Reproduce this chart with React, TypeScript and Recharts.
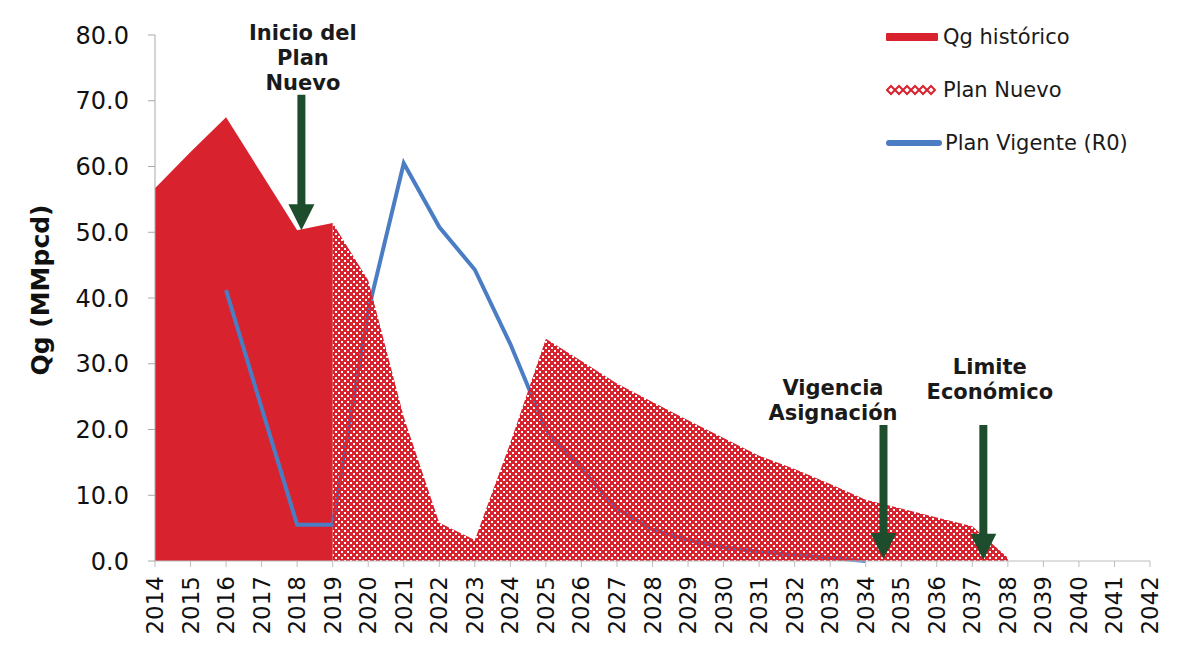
import React from 'react';
import { ComposedChart, Area, XAxis, YAxis, ReferenceLine, Legend } from 'recharts';

const years = [2014, 2015, 2016, 2017, 2018, 2019, 2020, 2021, 2022, 2023, 2024, 2025, 2026, 2027, 2028, 2029, 2030, 2031, 2032, 2033, 2034, 2035, 2036, 2037, 2038, 2039, 2040, 2041, 2042];
const qgHistorico = [56.7, 62.2, 67.5, 58.9, 50.3, 51.4, null, null, null, null, null, null, null, null, null, null, null, null, null, null, null, null, null, null, null, null, null, null, null];
const planNuevo = [null, null, null, null, null, 51.4, 42.7, 21.9, 5.8, 3.2, 18.0, 33.8, 30.4, 27.0, 24.2, 21.4, 18.7, 16.0, 14.0, 11.7, 9.3, 8.0, 6.6, 5.3, 0.5, null, null, null, null];
const planVigente = [null, null, 41.2, 23.3, 5.5, 5.5, 38.0, 60.5, 50.8, 44.3, 33.0, 20.0, 14.0, 8.0, 4.8, 3.2, 2.1, 1.4, 0.9, 0.5, 0.0, null, null, null, null, null, null, null, null];
const yTicks = [0, 10, 20, 30, 40, 50, 60, 70, 80];
const seriesNames = ['Qg histórico', 'Plan Nuevo', 'Plan Vigente (R0)'];
const yAxisTitle = 'Qg (MMpcd)';
const annotations = [
  { x: 2018.12, top: 70.9, tip: 50.3, lines: ['Inicio del', 'Plan', 'Nuevo'], dx: 1.5, gap: 12 },
  { x: 2034.5, top: 20.7, tip: 0.3, lines: ['Vigencia', 'Asignación'], dx: -50.5, gap: 12 },
  { x: 2037.31, top: 20.7, tip: 0.2, lines: ['Limite', 'Económico'], dx: 6.5, gap: 33 },
];

const RED = '#d8232f';
const BLUE = '#4a7dc4';
const GREEN = '#1e4d2d';
const FONT = '"DejaVu Sans", sans-serif';

const data = years.map((year, i) => ({
  year,
  hist: qgHistorico[i],
  nuevo: planNuevo[i],
  vigente: planVigente[i],
}));

const XTick = (props: any) => {
  const { x, y, payload } = props;
  return (
    <text
      x={x}
      y={y}
      transform={`rotate(-90 ${x} ${y})`}
      textAnchor="end"
      dominantBaseline="central"
      fontSize={23}
      fill="#111"
      fontFamily={FONT}
    >
      {payload.value}
    </text>
  );
};

const YTitle = (props: any) => {
  const vb = props.viewBox || { x: 0, y: 0, width: 0, height: 0 };
  const cx = vb.x + 32;
  const cy = vb.y + vb.height / 2 - 8;
  return (
    <text
      x={cx}
      y={cy}
      transform={`rotate(-90 ${cx} ${cy})`}
      textAnchor="middle"
      dominantBaseline="central"
      fontSize={25}
      fontWeight="bold"
      fill="#111"
      fontFamily={FONT}
    >
      {yAxisTitle}
    </text>
  );
};

const makeArrow = (ann: any) => (p: any) => {
  const { x1, y1, y2 } = p;
  const x = x1;
  const top = Math.min(y1, y2);
  const tip = Math.max(y1, y2);
  const headH = 26;
  const headW = 13;
  const n = ann.lines.length;
  return (
    <g>
      <line x1={x} y1={top} x2={x} y2={tip - headH + 2} stroke={GREEN} strokeWidth={8} />
      <polygon points={`${x - headW},${tip - headH} ${x + headW},${tip - headH} ${x},${tip}`} fill={GREEN} />
      {ann.lines.map((t: string, i: number) => (
        <text
          key={t}
          x={x + ann.dx}
          y={top - ann.gap - (n - 1 - i) * 25}
          textAnchor="middle"
          dominantBaseline="central"
          fontSize={21}
          fontWeight="bold"
          fill="#1a1a1a"
          fontFamily={FONT}
        >
          {t}
        </text>
      ))}
    </g>
  );
};

const LegendContent = () => {
  const icons = [
    <svg width={57} height={14} key="a"><rect x={0} y={3} width={52} height={8} rx={1} fill={RED} /></svg>,
    <svg width={57} height={14} key="b">
      {[0, 1, 2, 3, 4, 5].map((k) => (
        <polygon key={k} points={`${k * 8 + 1},7 ${k * 8 + 5},3 ${k * 8 + 9},7 ${k * 8 + 5},11`} fill="#fff" stroke={RED} strokeWidth={2} />
      ))}
    </svg>,
    <svg width={59} height={14} key="c"><line x1={3} y1={7} x2={53} y2={7} stroke={BLUE} strokeWidth={6} strokeLinecap="round" /></svg>,
  ];
  return (
    <div style={{ fontFamily: FONT, fontSize: 21, color: '#1a1a1a' }}>
      {seriesNames.map((name, i) => (
        <div key={name} style={{ height: 53, display: 'flex', alignItems: 'center', whiteSpace: 'nowrap' }}>
          {icons[i]}
          <span>{name}</span>
        </div>
      ))}
    </div>
  );
};

export default function App() {
  return (
    <div style={{ width: 1164, height: 636, outline: '1px solid #e2e2e2', fontFamily: FONT, position: 'relative' }}>
      <ComposedChart width={1164} height={631} data={data} margin={{ top: 27, right: 22, bottom: 8, left: 0 }}>
        <defs>
          <pattern id="pnPattern" patternUnits="userSpaceOnUse" width={6} height={6}>
            <path d="M0 0h6v6h-6z M0 0h2v2h-2z M3 3h2v2h-2z" fill={RED} fillRule="evenodd" />
          </pattern>
        </defs>
        <XAxis
          dataKey="year"
          type="number"
          domain={[2014, 2042]}
          ticks={years}
          interval={0}
          height={70}
          tick={<XTick />}
          tickSize={6}
          tickMargin={9}
          stroke="#bdbdbd"
          allowDataOverflow
        />
        <YAxis
          type="number"
          domain={[0, 80]}
          ticks={yTicks}
          width={147}
          tickFormatter={(v: number) => v.toFixed(1)}
          tick={{ fontSize: 24, fill: '#111', fontFamily: FONT }}
          tickSize={7}
          tickMargin={19}
          stroke="#a9a9a9"
          label={<YTitle />}
        />
        <Legend
          content={<LegendContent />}
          layout="vertical"
          align="center"
          verticalAlign="middle"
          wrapperStyle={{ top: 2.5, left: 878, width: 290 }}
        />
        <Area
          type="linear"
          dataKey="hist"
          name={seriesNames[0]}
          fill={RED}
          fillOpacity={1}
          stroke="none"
          isAnimationActive={false}
          connectNulls={false}
          activeDot={false}
        />
        <Area
          type="linear"
          dataKey="vigente"
          name={seriesNames[2]}
          fill="none"
          fillOpacity={0}
          stroke={BLUE}
          strokeWidth={4}
          dot={false}
          activeDot={false}
          isAnimationActive={false}
        />
        <Area
          type="linear"
          dataKey="nuevo"
          name={seriesNames[1]}
          fill="url(#pnPattern)"
          fillOpacity={1}
          stroke="none"
          isAnimationActive={false}
          connectNulls={false}
          activeDot={false}
        />
        {annotations.map((a) => (
          <ReferenceLine
            key={a.lines[0]}
            segment={[{ x: a.x, y: a.top }, { x: a.x, y: a.tip }]}
            shape={makeArrow(a)}
            ifOverflow="visible"
          />
        ))}
      </ComposedChart>
    </div>
  );
}
